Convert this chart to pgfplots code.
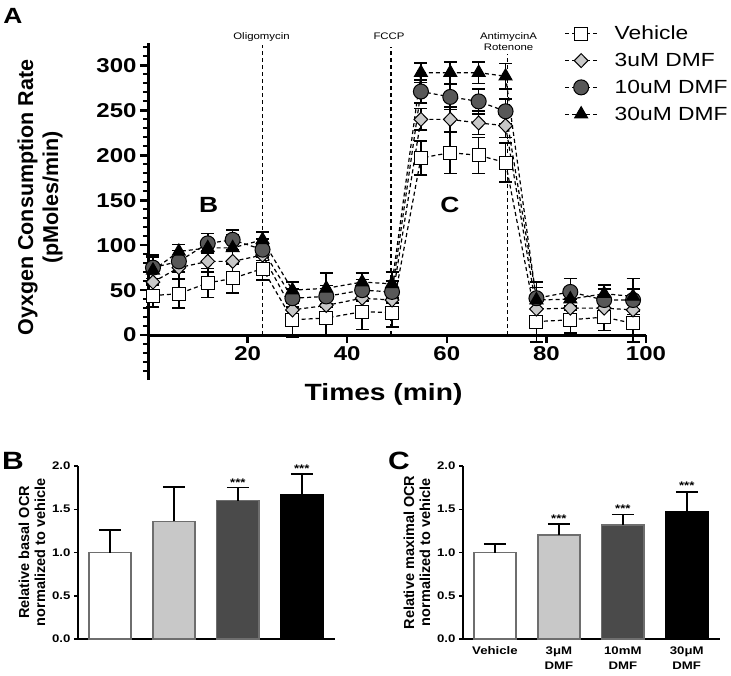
\documentclass[border=0pt]{standalone}
\usepackage{fontspec}
\setmainfont{Liberation Sans}[FakeStretch=1.2]
\newfontfamily\rotfont{Liberation Sans}
\usepackage{pgfplots}
\pgfplotsset{compat=1.18}
\usepackage{pgfplotstable}

\definecolor{lgray}{RGB}{200,200,200}
\definecolor{mgray}{RGB}{88,88,88}
\definecolor{dgray}{RGB}{74,74,74}
\definecolor{edge}{RGB}{110,110,110}
\newcommand{\fs}[2]{\fontsize{#1}{#2}\selectfont}

% time course: mean and SD for each treatment
\pgfplotstableread{
t    v   ve  a   ae  b   be  c   ce
1    44  13  59  14  75  12  72  17
6.2  46  16  75  12  82  12  93  8
12   58  16  82  12  102 11  97  16
17   63  16  82  12  106 11  97  15
23   74  13  89  12  95  12  106 9
29   17  19  28  12  41  10  50  9
35.8 19  20  33  12  43  12  52  17
43   26  20  41  12  50  12  59  10
49   25  16  39  12  48  12  57  13
54.8 197 19  240 12  271 13  292 11
60.7 203 23  240 14  265 14  292 12
66.4 200 20  236 13  260 14  292 12
71.8 192 22  233 13  249 14  288 14
78   15  23  29  10  41  12  39  20
84.8 17  15  30  10  48  15  40  12
91.6 20  15  30  10  39  12  46  10
97.4 13  21  28  10  39  12  43  20
}\ocr

\pgfplotsset{
  ocrline/.style={black, line width=1.2pt, dash pattern=on 4pt off 3pt,
    error bars/y dir=both, error bars/y explicit,
    error bars/error bar style={solid, black, line width=1.6pt},
    error bars/error mark options={rotate=90, solid, black, line width=1.6pt, mark size=6.5pt}},
  barax/.style={
    scale only axis, width=257pt, height=173pt,
    xmin=0.5, xmax=4.52, ymin=0, ymax=2,
    axis lines*=left, axis line style={line width=2pt},
    ytick={0,0.5,1,1.5,2},
    yticklabel style={/pgf/number format/.cd, fixed, fixed zerofill, precision=1},
    /pgf/number format/assume math mode=true,
    tick label style={font=\bfseries\fs{11}{15}},
    tick align=outside, major tick length=4pt, tick style={line width=1.5pt, black},
    ylabel style={font=\rotfont\bfseries\fs{14.5}{16}, align=center},
    clip=false, ybar, bar width=0.66, bar shift=0pt},
  onebar/.style={line width=1.5pt,
    error bars/y dir=plus, error bars/y explicit,
    error bars/error bar style={black, line width=1.5pt},
    error bars/error mark options={rotate=90, black, line width=1.5pt, mark size=11pt}},
  dashleg/.style={legend image code/.code={\draw[mark repeat=2, mark phase=2, ##1] plot coordinates {(0pt,0pt) (16pt,0pt) (32pt,0pt)};}}
}

\begin{document}
\begin{tikzpicture}
\useasboundingbox (0,0) rectangle (731pt,-676pt);

\node[font=\bfseries\fs{22}{24}] at (13pt,-16pt) {A};
\node[font=\bfseries\fs{25}{28}] at (13pt,-461pt) {B};
\node[font=\bfseries\fs{25}{28}] at (399pt,-461pt) {C};

\begin{axis}[
  at={(148pt,-380pt)}, anchor=south west,
  scale only axis, width=498pt, height=337pt,
  xmin=0, xmax=100, ymin=-50, ymax=325,
  axis x line*=middle, axis y line*=left,
  axis line style={line width=3pt},
  hide obscured x ticks=false, hide obscured y ticks=false,
  xtick={20,40,...,100}, ytick={0,50,...,300},
  minor ytick={-40,-30,...,320},
  tick align=outside, major tick length=8pt, minor tick length=5pt,
  tick style={line width=2.5pt, black}, minor tick style={line width=2pt},
  /pgf/number format/assume math mode=true,
  tick label style={font=\bfseries\fs{20}{24}},
  xlabel={Times (min)},
  xlabel style={at={(axis description cs:0.473,0)}, anchor=north, font=\bfseries\fs{23.5}{26}},
  ylabel={Oyxgen Consumption Rate\\(pMoles/min)},
  ylabel style={at={(ticklabel cs:0.5415)}, align=center, font=\rotfont\bfseries\fs{21.5}{25}},
  ylabel shift=27pt,
  clip=false,
  legend style={at={(axis description cs:0.83,1.063)}, anchor=north west,
    draw=none, fill=none, font=\fs{19}{23}, row sep=8pt,
    /tikz/every odd column/.append style={column sep=15pt}},
  legend cell align=left,
  dashleg,
]
\addplot[ocrline, mark=square*, mark size=6.5pt, mark options={solid, fill=white, line width=1pt}]
  table[x=t, y=v, y error=ve] {\ocr};
\addplot[ocrline, mark=diamond*, mark size=7pt, mark options={solid, fill=lgray, line width=1pt, xscale=1.3}]
  table[x=t, y=a, y error=ae] {\ocr};
\addplot[ocrline, mark=*, mark size=7.5pt, mark options={solid, fill=mgray, line width=1pt}]
  table[x=t, y=b, y error=be] {\ocr};
\addplot[ocrline, mark=triangle*, mark size=7.5pt, mark options={solid, fill=black, line width=1pt}]
  table[x=t, y=c, y error=ce] {\ocr};
\legend{Vehicle, 3uM DMF, 10uM DMF, 30uM DMF}

% injection times
\draw[black, line width=1.2pt, dash pattern=on 4pt off 3pt] (axis cs:23,0) -- (axis cs:23,323);
\draw[black, line width=1.2pt, dash pattern=on 4pt off 3pt] (axis cs:48.8,0) -- (axis cs:48.8,321);
\draw[black, line width=1.2pt, dash pattern=on 4pt off 3pt] (axis cs:72.2,0) -- (axis cs:72.2,313);
\node[font=\fs{9.5}{11}] at (axis cs:22.8,332) {Oligomycin};
\node[font=\fs{9.5}{11}] at (axis cs:48.4,332) {FCCP};
\node[font=\fs{9.5}{11}, align=center] at (axis cs:72.4,326) {AntimycinA\\Rotenone};
\node[font=\bfseries\fs{22}{24}] at (axis cs:12.2,145) {B};
\node[font=\bfseries\fs{22}{24}] at (axis cs:60.6,145) {C};
\end{axis}

\begin{axis}[barax, at={(78pt,-639pt)}, anchor=south west,
  xtick=\empty,
  ylabel={Relative basal OCR\\normalized to vehicle}]
\addplot[onebar, fill=white, draw=edge] coordinates {(1,1.00) +- (0,0.26)};
\addplot[onebar, fill=lgray, draw=edge] coordinates {(2,1.36) +- (0,0.40)};
\addplot[onebar, fill=dgray, draw=edge] coordinates {(3,1.60) +- (0,0.15)};
\addplot[onebar, fill=black, draw=black] coordinates {(4,1.67) +- (0,0.24)};
\node[font=\bfseries\fs{11}{13}, anchor=south, inner sep=1pt] at (axis cs:3,1.75) {***};
\node[font=\bfseries\fs{11}{13}, anchor=south, inner sep=1pt] at (axis cs:4,1.91) {***};
\end{axis}

\begin{axis}[barax, at={(463pt,-639pt)}, anchor=south west,
  xtick={1,2,3,4}, xtick style={draw=none},
  xticklabels={Vehicle, {3μM\\DMF}, {10mM\\DMF}, {30μM\\DMF}},
  xticklabel style={align=center},
  ylabel={Relative maximal OCR\\normalized to vehicle}]
\addplot[onebar, fill=white, draw=edge] coordinates {(1,1.00) +- (0,0.10)};
\addplot[onebar, fill=lgray, draw=edge] coordinates {(2,1.20) +- (0,0.13)};
\addplot[onebar, fill=dgray, draw=edge] coordinates {(3,1.32) +- (0,0.12)};
\addplot[onebar, fill=black, draw=black] coordinates {(4,1.47) +- (0,0.23)};
\node[font=\bfseries\fs{11}{13}, anchor=south, inner sep=1pt] at (axis cs:2,1.33) {***};
\node[font=\bfseries\fs{11}{13}, anchor=south, inner sep=1pt] at (axis cs:3,1.45) {***};
\node[font=\bfseries\fs{11}{13}, anchor=south, inner sep=1pt] at (axis cs:4,1.71) {***};
\end{axis}
\end{tikzpicture}
\end{document}
